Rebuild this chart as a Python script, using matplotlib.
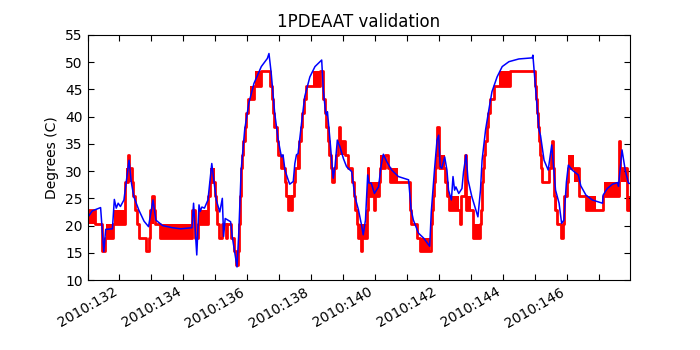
import matplotlib
matplotlib.use('Agg')
import matplotlib.pyplot as plt
from matplotlib.ticker import MultipleLocator, FuncFormatter

# model prediction (day of year 2010, degC)
model_day = [131.00, 131.02, 131.15, 131.41, 131.51, 131.57, 131.78, 131.84, 131.90, 131.96,
             132.03, 132.14, 132.30, 132.37, 132.45, 132.61, 132.77, 132.91, 133.05, 133.14,
             133.35, 133.66, 133.92, 134.27, 134.32, 134.42, 134.49, 134.53, 134.58, 134.66,
             134.77, 134.89, 135.03, 135.14, 135.22, 135.26, 135.31, 135.48, 135.53, 135.68,
             135.73, 135.81, 135.92, 136.05, 136.21, 136.44, 136.63, 136.68, 136.75, 136.86,
             136.97, 137.07, 137.12, 137.18, 137.28, 137.33, 137.44, 137.49, 137.54, 137.59,
             137.70, 137.80, 137.96, 138.12, 138.33, 138.38, 138.45, 138.48, 138.51, 138.59,
             138.69, 138.75, 138.82, 138.90, 139.01, 139.11, 139.27, 139.37, 139.48, 139.58,
             139.63, 139.70, 139.77, 139.81, 139.88, 139.98, 140.11, 140.19, 140.26, 140.37,
             140.52, 140.73, 141.05, 141.13, 141.20, 141.36, 141.52, 141.71, 141.76, 141.86,
             141.94, 141.99, 142.04, 142.09, 142.18, 142.25, 142.30, 142.39, 142.44, 142.49,
             142.53, 142.62, 142.72, 142.77, 142.85, 142.91, 143.03, 143.22, 143.30, 143.35,
             143.46, 143.56, 143.66, 143.82, 143.98, 144.19, 144.50, 144.92, 144.94, 145.03,
             145.13, 145.18, 145.29, 145.42, 145.53, 145.57, 145.65, 145.76, 145.84, 145.91,
             145.99, 146.05, 146.17, 146.36, 146.44, 146.60, 146.80, 147.12, 147.14, 147.27,
             147.43, 147.59, 147.62, 147.73, 147.83, 147.93, 148.00]
model_degc = [21.0, 21.6, 22.7, 23.3, 15.2, 19.3, 19.4, 24.8, 23.2, 24.1,
              23.5, 24.7, 32.0, 28.0, 25.3, 22.8, 20.8, 19.8, 24.7, 21.0,
              20.0, 19.6, 19.4, 19.6, 24.1, 14.6, 23.8, 22.6, 23.4, 23.2,
              24.7, 31.4, 24.7, 22.5, 25.0, 18.0, 21.3, 20.7, 18.0, 12.4,
              18.0, 30.2, 37.6, 42.5, 46.1, 49.2, 50.7, 51.6, 48.0, 40.6,
              35.7, 32.6, 33.0, 30.2, 28.4, 27.6, 28.1, 31.4, 33.0, 33.2,
              38.8, 43.7, 47.3, 49.2, 50.4, 44.9, 40.9, 40.3, 40.9, 35.7,
              28.7, 31.0, 35.7, 34.5, 32.3, 30.8, 29.9, 25.3, 22.9, 20.0,
              18.3, 21.0, 29.3, 27.8, 27.8, 25.9, 27.1, 31.0, 33.1, 31.7,
              30.2, 29.0, 28.4, 22.9, 21.0, 18.6, 17.7, 16.2, 22.5, 30.2,
              35.7, 36.6, 30.8, 30.5, 32.6, 30.2, 26.5, 24.7, 29.0, 26.5,
              27.1, 25.9, 26.8, 29.9, 33.0, 28.4, 25.3, 21.6, 26.5, 32.0,
              37.6, 41.2, 44.6, 47.3, 49.2, 50.1, 50.6, 50.8, 51.3, 44.9,
              37.6, 36.5, 32.0, 30.2, 34.8, 32.0, 26.5, 24.1, 20.4, 21.0,
              28.0, 31.1, 30.2, 29.3, 27.3, 25.6, 24.7, 24.1, 25.6, 26.8,
              27.6, 27.9, 27.2, 33.9, 30.2, 27.8, 27.7]

# telemetry (quantized, step changes)
tlm_day = [131.00, 131.25, 131.44, 131.54, 131.79, 132.17, 132.26, 132.28, 132.31, 132.38,
           132.42, 132.48, 132.56, 132.60, 132.82, 132.93, 132.95, 133.03, 133.07, 133.10,
           133.26, 134.27, 134.36, 134.45, 134.77, 134.82, 134.98, 135.02, 135.06, 135.12,
           135.20, 135.32, 135.36, 135.50, 135.58, 135.66, 135.72, 135.74, 135.75, 135.77,
           135.78, 135.80, 135.82, 135.85, 135.88, 135.92, 135.97, 136.03, 136.20, 136.42,
           136.72, 136.76, 136.80, 136.85, 136.92, 136.97, 137.05, 137.17, 137.22, 137.28,
           137.31, 137.37, 137.40, 137.45, 137.50, 137.62, 137.67, 137.72, 137.77, 137.85,
           138.27, 138.36, 138.38, 138.42, 138.47, 138.52, 138.57, 138.62, 138.66, 138.72,
           138.78, 138.83, 138.86, 138.90, 139.05, 139.14, 139.27, 139.33, 139.38, 139.44,
           139.48, 139.56, 139.60, 139.74, 139.77, 139.79, 139.98, 140.00, 140.11, 140.16,
           140.32, 140.40, 140.47, 141.08, 141.13, 141.30, 141.41, 141.74, 141.77, 141.80,
           141.84, 141.88, 141.90, 141.93, 141.95, 141.99, 142.20, 142.24, 142.30, 142.66,
           142.69, 142.83, 142.86, 143.08, 143.30, 143.32, 143.34, 143.36, 143.39, 143.42,
           143.45, 143.49, 143.54, 143.60, 143.72, 144.21, 145.00, 145.04, 145.08, 145.10,
           145.13, 145.17, 145.20, 145.24, 145.44, 145.50, 145.53, 145.56, 145.60, 145.62,
           145.70, 145.82, 145.87, 145.91, 146.00, 146.05, 146.38, 146.60, 147.12, 147.64,
           147.67, 147.90, 148.00]
tlm_degc = [22.9, 20.3, 15.3, 17.8, 20.3, 28.0, 30.5, 33.0, 30.5, 28.0,
            25.4, 22.9, 20.3, 17.8, 15.3, 17.8, 22.9, 25.4, 22.9, 20.3,
            17.8, 22.9, 17.8, 20.3, 25.4, 28.0, 25.4, 22.9, 20.3, 17.8,
            20.3, 17.8, 20.3, 17.8, 15.3, 12.7, 15.3, 17.8, 20.3, 22.9,
            25.4, 28.0, 30.5, 33.0, 35.6, 38.1, 40.6, 43.2, 45.7, 48.3,
            45.7, 43.2, 40.6, 38.1, 35.6, 33.0, 30.5, 28.0, 25.4, 22.9,
            25.4, 22.9, 25.4, 28.0, 30.5, 35.6, 38.1, 40.6, 43.2, 45.7,
            48.3, 45.7, 43.2, 40.6, 38.1, 35.6, 33.0, 30.5, 28.0, 30.5,
            33.0, 35.6, 38.1, 35.6, 33.0, 30.5, 28.0, 25.4, 22.9, 20.3,
            17.8, 15.3, 17.8, 22.9, 30.5, 25.4, 22.9, 25.4, 28.0, 30.5,
            33.0, 30.5, 28.0, 22.9, 20.3, 17.8, 15.3, 20.3, 22.9, 25.4,
            28.0, 30.5, 33.0, 35.6, 38.1, 30.5, 28.0, 25.4, 22.9, 20.3,
            25.4, 33.0, 22.9, 17.8, 20.3, 22.9, 25.4, 28.0, 30.5, 33.0,
            35.6, 38.1, 40.6, 43.2, 45.7, 48.3, 45.7, 43.2, 40.6, 38.1,
            35.6, 33.0, 30.5, 28.0, 30.5, 33.0, 35.6, 30.5, 25.4, 22.9,
            20.3, 17.8, 20.3, 25.4, 28.0, 30.5, 25.4, 22.9, 25.4, 35.6,
            30.5, 22.9, 22.9]

# stretches where telemetry flickers between two adjacent counts
tog_start = [131.00, 131.59, 131.84, 132.19, 132.95, 133.26, 134.45, 134.82, 136.08, 136.25,
             137.05, 137.55, 138.06, 138.90, 139.48, 139.79, 140.16, 140.47, 141.41, 141.99,
             142.24, 142.30, 142.86, 143.10, 143.87, 145.62, 146.05, 146.23, 146.60, 147.17,
             147.69, 147.90]
tog_end = [131.25, 131.79, 132.17, 132.36, 133.08, 134.27, 134.77, 134.98, 136.20, 136.42,
           137.15, 137.62, 138.27, 139.05, 139.74, 140.11, 140.32, 140.73, 141.73, 142.20,
           142.30, 142.62, 143.00, 143.30, 144.21, 145.70, 146.23, 146.38, 146.92, 147.64,
           147.90, 148.00]
tog_low = [20.3, 17.8, 20.3, 28.0, 20.3, 17.8, 20.3, 28.0, 43.2, 45.7,
           30.5, 30.5, 45.7, 33.0, 17.8, 25.4, 30.5, 28.0, 15.3, 30.5,
           25.4, 22.9, 22.9, 17.8, 45.7, 22.9, 30.5, 28.0, 22.9, 25.4,
           28.0, 22.9]
tog_high = [22.9, 20.3, 22.9, 30.5, 22.9, 20.3, 22.9, 30.5, 45.7, 48.3,
            33.0, 33.0, 48.3, 35.6, 20.3, 28.0, 33.0, 30.5, 17.8, 33.0,
            28.0, 25.4, 25.4, 20.3, 48.3, 25.4, 33.0, 30.5, 25.4, 28.0,
            30.5, 25.4]


def day_label(d, pos):
    d = int(round(d))
    if d % 2:
        return ''
    return '2010:%03d' % d


fig, ax = plt.subplots(figsize=(7, 3.5), dpi=100)
fig.subplots_adjust(left=0.125, right=0.9, bottom=0.2, top=0.9)

for s, e, lo, hi in zip(tog_start, tog_end, tog_low, tog_high):
    ax.fill_between([s, e], lo, hi, color='red', lw=0)
ax.plot(tlm_day, tlm_degc, color='red', lw=2.0, drawstyle='steps-post')
ax.plot(model_day, model_degc, color='blue', lw=1.1)

ax.set_xlim(131, 147.98)
ax.set_ylim(10, 55)
ax.xaxis.set_major_locator(MultipleLocator(1))
ax.xaxis.set_major_formatter(FuncFormatter(day_label))
ax.yaxis.set_major_locator(MultipleLocator(5))
ax.tick_params(direction='in', top=True, right=True, length=4, labelsize=10)
plt.setp(ax.get_xticklabels(), rotation=30, ha='right')

ax.set_title('1PDEAAT validation', fontsize=12)
ax.set_ylabel('Degrees (C)', fontsize=10)

fig.savefig('out.png')
